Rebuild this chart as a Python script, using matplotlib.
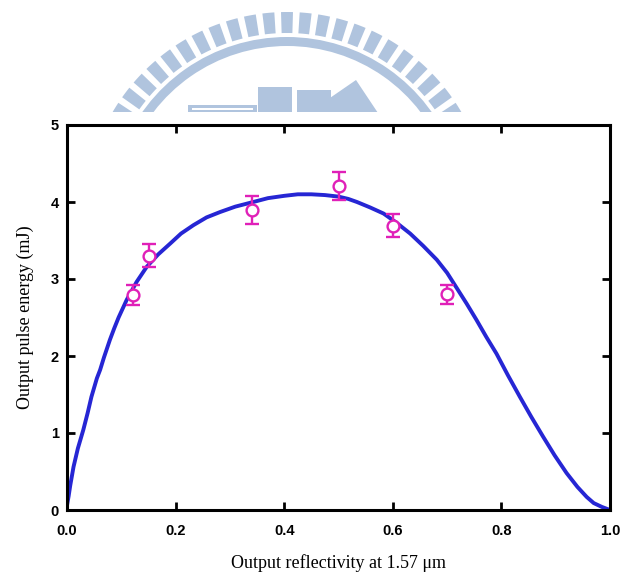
import matplotlib

matplotlib.use("Agg")
import matplotlib.pyplot as plt
from matplotlib.patches import Wedge, Rectangle, Polygon

# measured points (reflectivity, energy mJ, error)
meas_r = [0.122, 0.151, 0.340, 0.500, 0.601, 0.699]
meas_e = [2.79, 3.30, 3.90, 4.21, 3.69, 2.80]
meas_err = [0.13, 0.15, 0.18, 0.18, 0.15, 0.12]

# theoretical curve
fit_r = [0.0, 0.003, 0.006, 0.012, 0.020, 0.030, 0.038, 0.045, 0.055, 0.061, 0.068,
         0.079, 0.087, 0.095, 0.110, 0.128, 0.147, 0.168, 0.190, 0.210, 0.233,
         0.257, 0.282, 0.310, 0.343, 0.370, 0.400, 0.425, 0.450, 0.475, 0.500,
         0.518, 0.534, 0.558, 0.583, 0.607, 0.632, 0.656, 0.681, 0.700, 0.718,
         0.736, 0.754, 0.772, 0.791, 0.812, 0.834, 0.855, 0.877, 0.898, 0.920,
         0.940, 0.957, 0.970, 0.985, 1.0]
fit_e = [0.06, 0.18, 0.32, 0.56, 0.80, 1.04, 1.26, 1.47, 1.71, 1.82, 1.98,
         2.21, 2.36, 2.50, 2.73, 2.96, 3.16, 3.32, 3.46, 3.59, 3.70,
         3.80, 3.87, 3.94, 4.00, 4.05, 4.08, 4.10, 4.10, 4.09, 4.07,
         4.04, 4.00, 3.93, 3.85, 3.73, 3.59, 3.43, 3.25, 3.08, 2.88,
         2.68, 2.47, 2.25, 2.03, 1.75, 1.47, 1.21, 0.95, 0.71, 0.48,
         0.30, 0.17, 0.09, 0.04, 0.0]

W, H = 625, 585
fig = plt.figure(figsize=(W / 100, H / 100), dpi=100)

# faint logo watermark above the plot (pixel coordinates, y from top)
wm = fig.add_axes([0, (H - 112) / H, 1, 112 / H])
wm.set_xlim(0, W)
wm.set_ylim(112, 0)
wm.axis("off")
logo = "#b0c4de"
cx, cy = 287, 214
for k in range(-11, 12):
    a = -90 + k * 5.3  # y axis is flipped, so "up" is -90 deg
    wm.add_patch(Wedge((cx, cy), 202, a - 1.7, a + 1.7, width=21, color=logo, lw=0))
wm.add_patch(Wedge((cx, cy), 177, -160, -20, width=9, color=logo, lw=0))
wm.add_patch(Rectangle((188, 105), 69, 8, color=logo, lw=0))
wm.add_patch(Rectangle((192, 108), 61, 1.5, color="white", lw=0))
wm.add_patch(Rectangle((258, 87), 34, 26, color=logo, lw=0))
wm.add_patch(Rectangle((297, 90), 34, 23, color=logo, lw=0))
wm.add_patch(Polygon([(327, 100), (356, 80), (378, 113), (331, 113)], color=logo, lw=0))

ax = fig.add_axes([67 / W, (H - 510) / H, (610 - 67) / W, (510 - 125) / H])
ax.plot(fit_r, fit_e, color="#2626d4", lw=2.8, solid_capstyle="round",
        solid_joinstyle="round")
ax.errorbar(meas_r, meas_e, yerr=meas_err, fmt="o", mfc="white", mec="#e020b8",
            ecolor="#e020b8", ms=8.5, mew=1.7, elinewidth=1.7, capsize=5, capthick=1.7)

ax.set_xlim(0, 1.0)
ax.set_ylim(0, 5)
ax.set_xticks([0.0, 0.2, 0.4, 0.6, 0.8, 1.0])
ax.set_yticks([0, 1, 2, 3, 4, 5])
ax.set_xticklabels(["0.0", "0.2", "0.4", "0.6", "0.8", "1.0"])
for s in ax.spines.values():
    s.set_linewidth(2.2)
ax.tick_params(direction="in", length=6, width=2, top=True, right=True,
               labelsize=10.5)
ax.tick_params(axis="x", pad=10)
ax.tick_params(axis="y", pad=6)
for lab in ax.get_xticklabels() + ax.get_yticklabels():
    lab.set_fontfamily("Liberation Sans")
    lab.set_fontweight("bold")

ax.set_xlabel("Output reflectivity at 1.57 \u03bcm", family="Liberation Serif",
              fontsize=13, labelpad=12)
ax.set_ylabel("Output pulse energy (mJ)", family="Liberation Serif",
              fontsize=13, labelpad=12)

fig.savefig("out.png", dpi=100)
